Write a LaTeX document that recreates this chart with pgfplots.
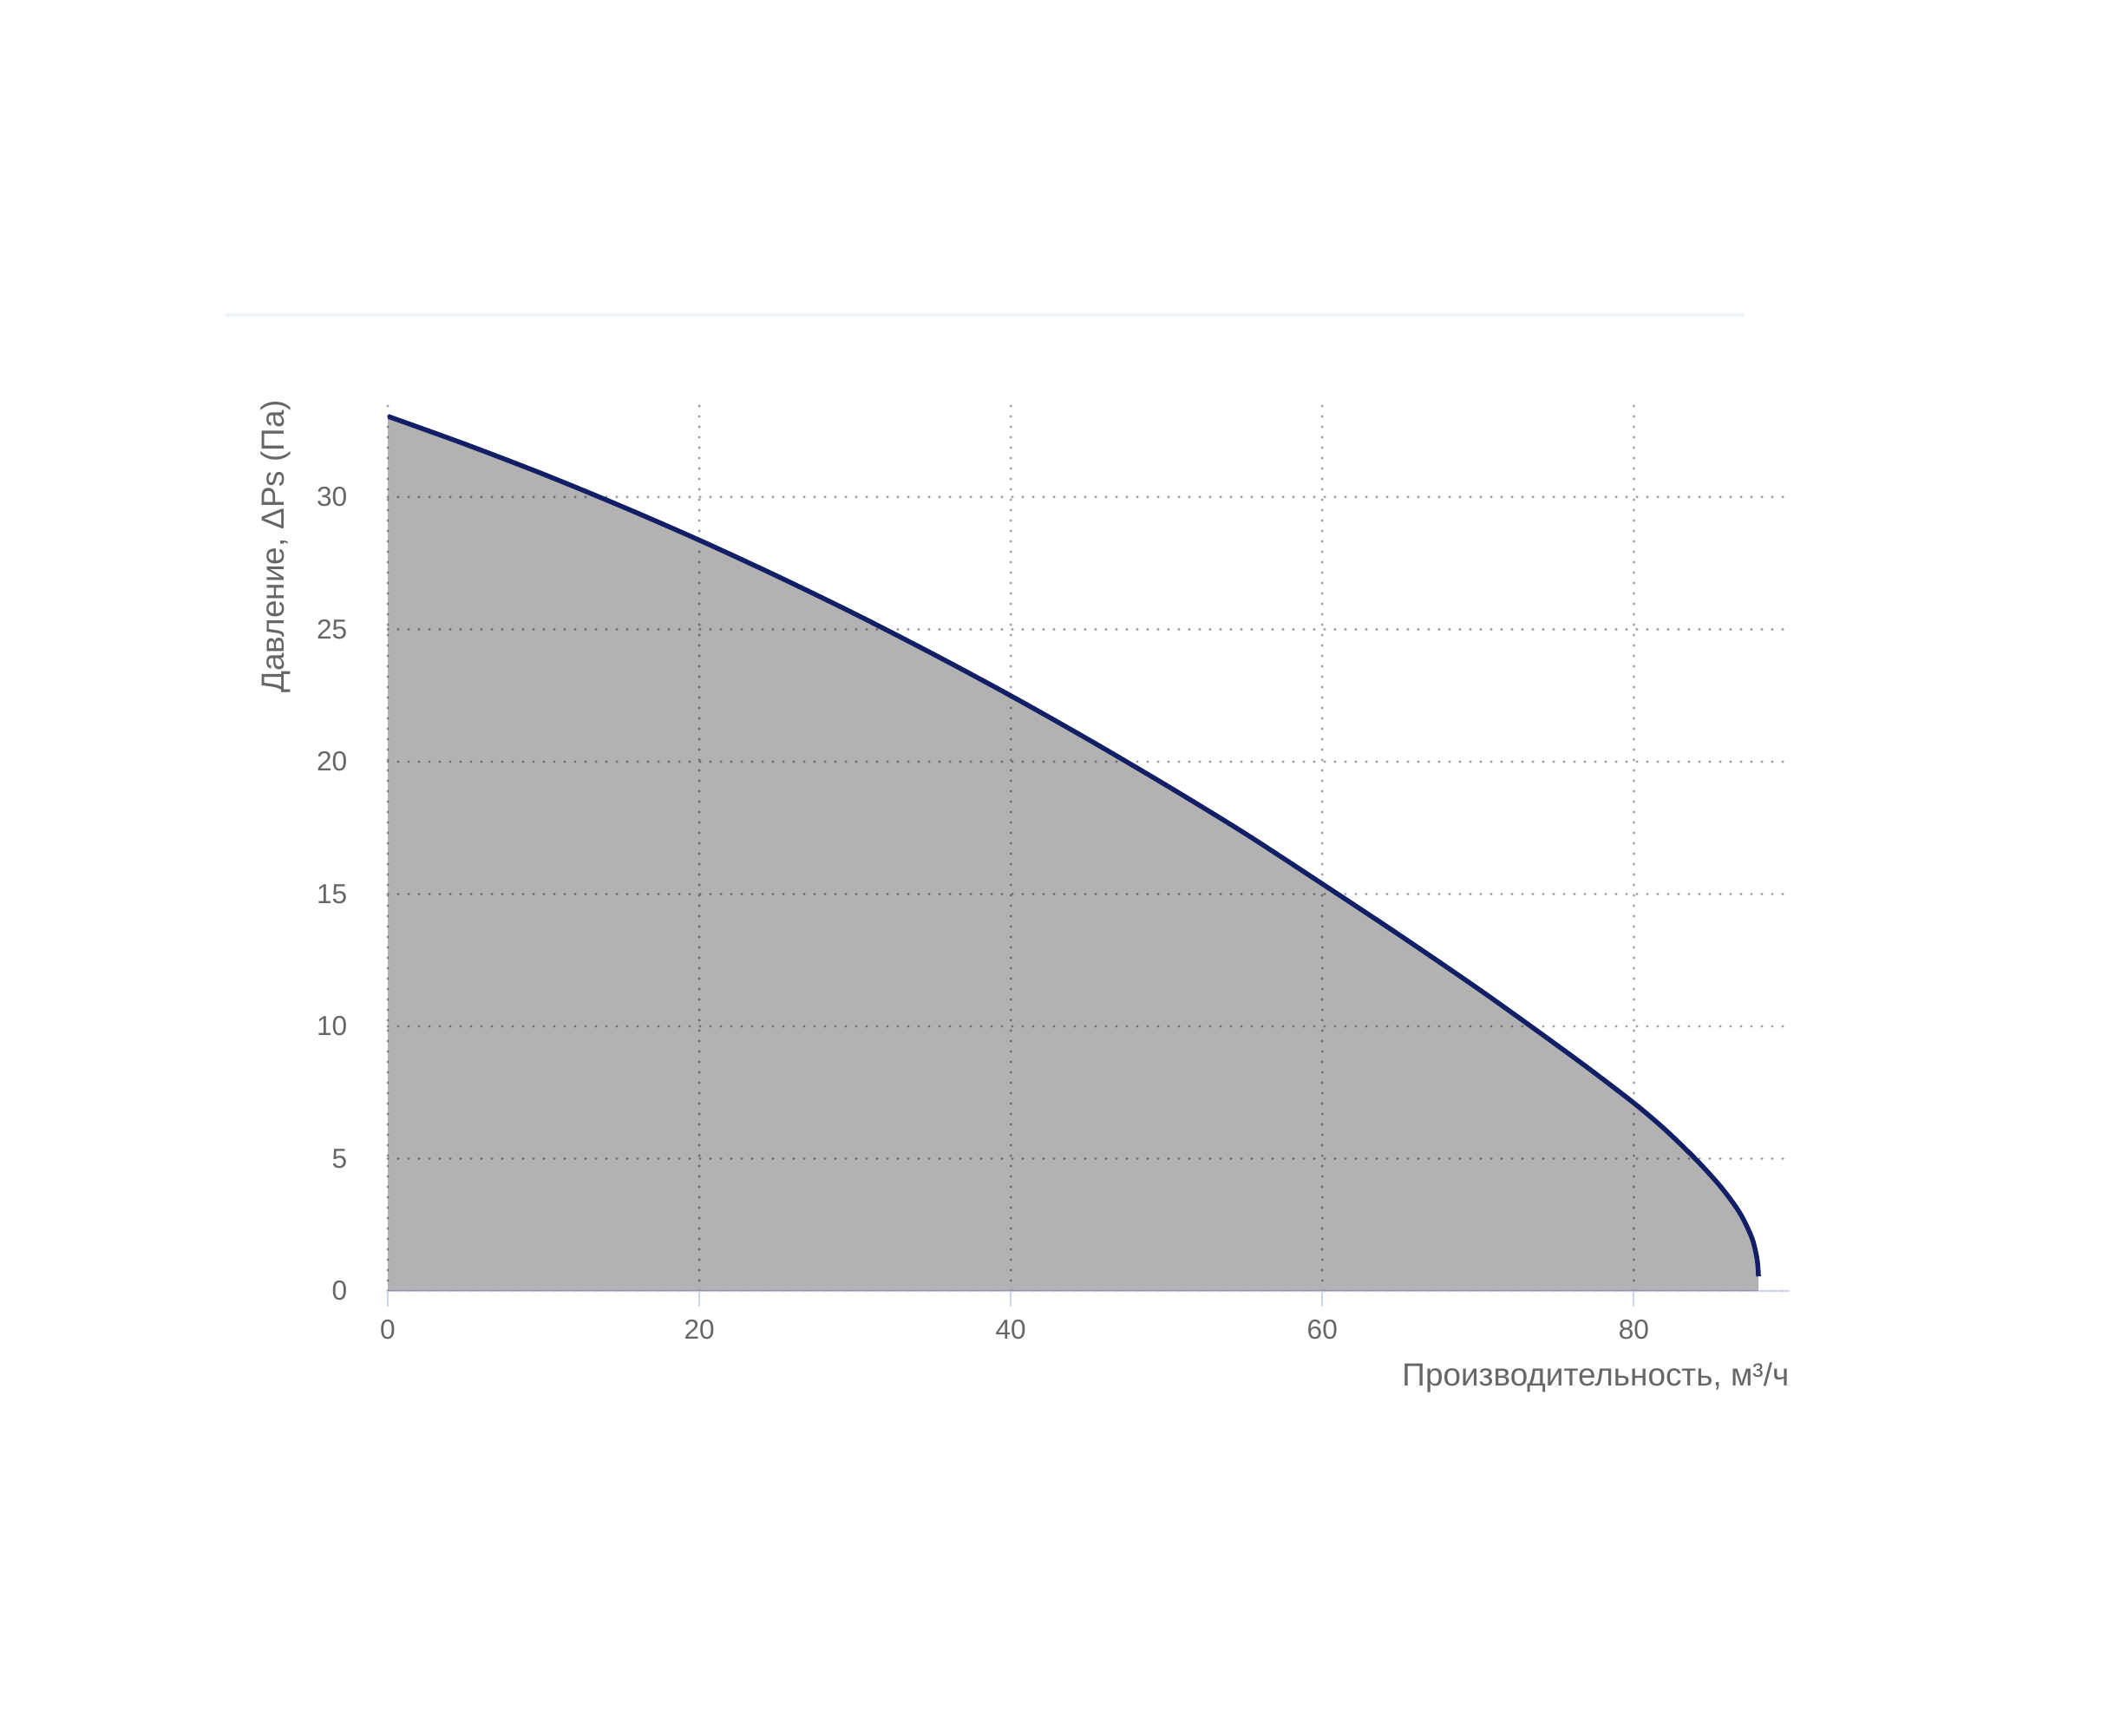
\documentclass[border=0pt]{standalone}
\usepackage{fontspec}
\setmainfont{Liberation Sans}
\usepackage{pgfplots}
\usepackage{pgfplotstable}
\pgfplotsset{compat=1.18}

\definecolor{curve}{RGB}{18,31,102}
\definecolor{axisblue}{RGB}{204,214,235}
\definecolor{txt}{RGB}{102,102,102}
\definecolor{gridc}{RGB}{160,160,160}
\definecolor{topline}{RGB}{240,245,250}

% fan curve: flow (m3/h) vs static pressure (Pa)
\pgfplotstableread{
x      y
0      33.05
5      31.99
10     30.86
15     29.65
20     28.37
25     27.01
30     25.58
35     24.07
40     22.49
45     20.83
50     19.10
55     17.30
60     15.38
65     13.43
70     11.42
74     9.74
77     8.45
80     7.10
82     6.10
84     4.96
85.6   3.92
86.8   2.95
87.58  2.00
87.91  1.20
88     0.55
}\fandata

\begin{document}
\begin{tikzpicture}
\path[use as bounding box] (0,0) rectangle (244.5mm,200mm);
\draw[topline, line width=0.4mm] (26mm,163.7mm) -- (201.1mm,163.7mm);
\begin{axis}[
  at={(44.7mm,51.2mm)}, anchor=south west,
  scale only axis, width=161.6mm, height=102.8mm,
  xmin=0, xmax=90, ymin=0, ymax=33.7,
  xtick={0,20,...,80}, ytick={0,5,...,30},
  axis x line*=bottom, axis y line*=left,
  x axis line style={draw=axisblue, line width=0.2mm},
  y axis line style={draw=none},
  tick align=outside, major tick length=1.8mm,
  xtick style={draw=axisblue, line width=0.2mm},
  ytick style={draw=none},
  grid=major,
  major grid style={gridc, line width=0.33mm, line cap=round, dash pattern=on 0pt off 1.2mm},
  /pgf/number format/assume math mode=true,
  ticklabel style={font=\fontsize{9}{11}\selectfont, text=txt, inner sep=0pt},
  xticklabel style={yshift=-1.5mm},
  yticklabel style={xshift=-2.8mm},
  label style={font=\fontsize{10.5}{12.6}\selectfont, text=txt, inner sep=0pt},
  xlabel={Производительность, м³/ч},
  xlabel style={at={(axis description cs:1,0)}, anchor=north east, yshift=-8.2mm},
  ylabel={Давление, ΔPs (Па)},
  ylabel style={at={(axis description cs:0,1)}, anchor=south east, yshift=11.1mm},
]
\addplot[draw=none, fill=black, fill opacity=0.3, smooth] table {\fandata} \closedcycle;
\addplot[curve, line width=0.55mm, smooth] table {\fandata};
\end{axis}
\end{tikzpicture}
\end{document}
